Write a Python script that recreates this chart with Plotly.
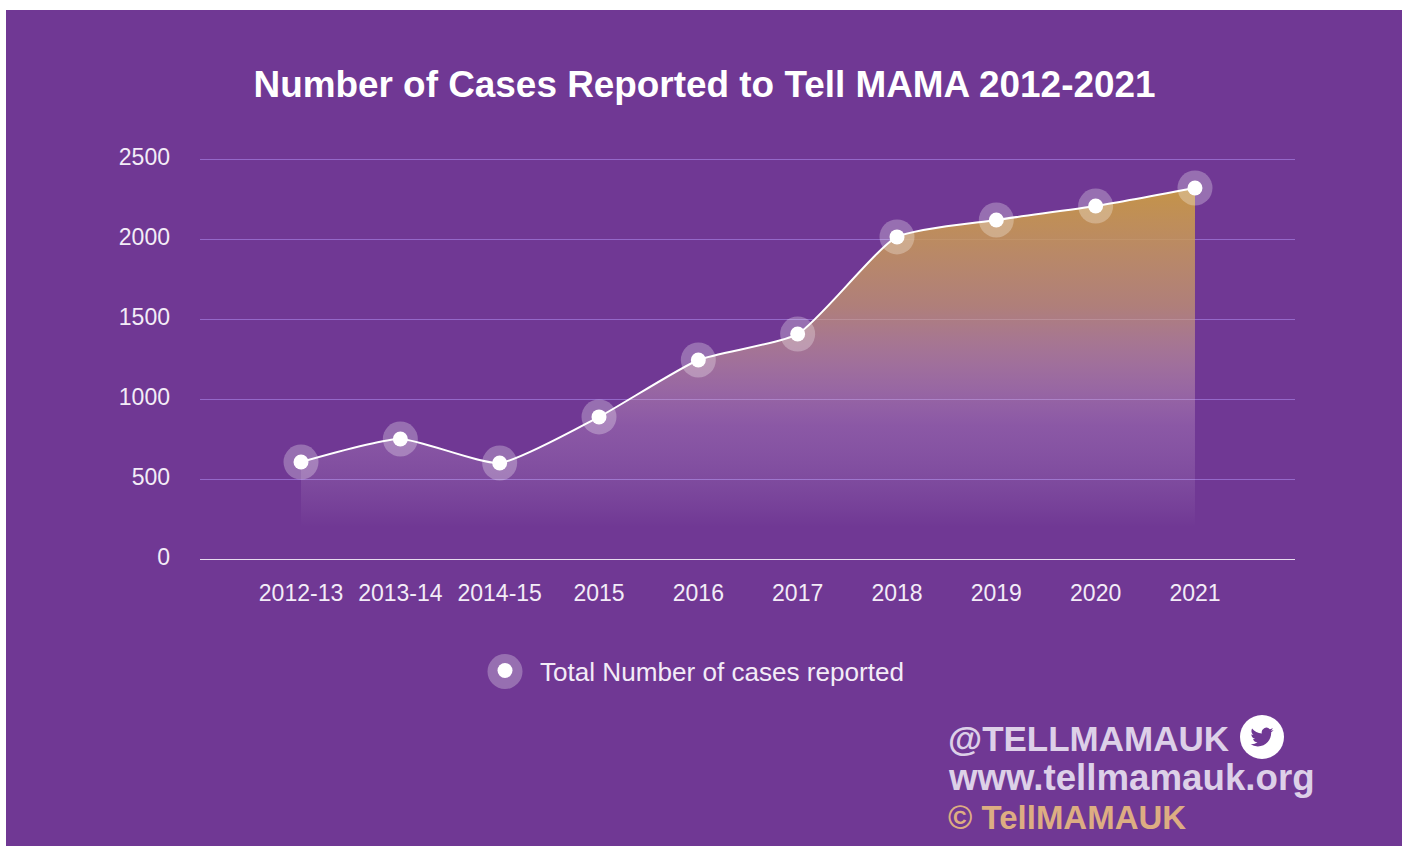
import base64
import plotly.graph_objects as go

categories = ["2012-13", "2013-14", "2014-15", "2015", "2016", "2017", "2018", "2019", "2020", "2021"]
cases = [606, 750, 600, 888, 1244, 1406, 2013, 2119, 2206, 2319]
series_name = "Total Number of cases reported"
title_text = "Number of Cases Reported to Tell MAMA 2012-2021"
y_ticks = [0, 500, 1000, 1500, 2000, 2500]

W, H = 1402, 846
L, R, T, B = 200, 107, 157, 285
PW, PH = W - L - R, H - T - B
PURPLE = "#703894"
FONT = "Liberation Sans"
GRID = "#9468C8"

def px(x):
    return (x - L) / PW

def py(y):
    return (H - B - y) / PH

bird = ("M23.953 4.57a10 10 0 01-2.825.775 4.958 4.958 0 002.163-2.723c-.951.555-2.005.959-3.127 1.184"
        "a4.92 4.92 0 00-8.384 4.482C7.69 8.095 4.067 6.13 1.64 3.162a4.822 4.822 0 00-.666 2.475"
        "c0 1.71.87 3.213 2.188 4.096a4.904 4.904 0 01-2.228-.616v.06a4.923 4.923 0 003.946 4.827"
        " 4.996 4.996 0 01-2.212.085 4.936 4.936 0 004.604 3.417 9.867 9.867 0 01-6.102 2.105"
        "c-.39 0-.779-.023-1.17-.067a13.995 13.995 0 007.557 2.209c9.053 0 13.998-7.496 13.998-13.985"
        " 0-.21 0-.42-.015-.63A9.935 9.935 0 0024 4.59z")
svg = (f'<svg xmlns="http://www.w3.org/2000/svg" width="44" height="44" viewBox="0 0 44 44">'
       f'<circle cx="22" cy="22" r="22" fill="white"/>'
       f'<g transform="translate(10.5,10.5) scale(0.96)"><path d="{bird}" fill="{PURPLE}"/></g></svg>')
svg_uri = "data:image/svg+xml;base64," + base64.b64encode(svg.encode()).decode()

fig = go.Figure()
fig.add_trace(go.Scatter(
    x=categories, y=cases, mode="none", fill="tozeroy", showlegend=False, hoverinfo="skip",
    line=dict(shape="spline", smoothing=0.55),
    fillgradient=dict(type="vertical", start=200, stop=2319, colorscale=[
        [0.0, "rgba(255,255,255,0)"],
        [0.30, "rgba(225,190,220,0.24)"],
        [0.65, "rgba(205,160,110,0.68)"],
        [1.0, "rgba(199,150,70,0.97)"],
    ]),
))
fig.add_trace(go.Scatter(
    x=categories, y=cases, mode="markers", showlegend=False, hoverinfo="skip",
    marker=dict(size=35, color="rgba(255,255,255,0.28)", line=dict(width=0)),
))
fig.add_trace(go.Scatter(
    x=categories, y=cases, mode="lines", showlegend=False, hoverinfo="skip",
    line=dict(color="white", width=2, shape="spline", smoothing=0.55),
))
fig.add_trace(go.Scatter(
    x=categories, y=cases, mode="markers", name=series_name,
    marker=dict(size=15, color="white", line=dict(width=0)),
))

def note(text, x, y, size, color):
    return dict(text=text, xref="paper", yref="paper", x=px(x), y=py(y), xanchor="left", yanchor="middle",
                showarrow=False, font=dict(family=FONT, size=size, color=color), borderpad=0)

fig.update_layout(
    width=W, height=H, margin=dict(l=L, r=R, t=T, b=B, autoexpand=False),
    paper_bgcolor="white", plot_bgcolor="rgba(0,0,0,0)",
    font=dict(family=FONT, size=23, color="#F3ECF7"),
    title=dict(text=f"<b>{title_text}</b>", x=704.5 / W, xanchor="center", y=1 - 84 / H, yanchor="middle",
               font=dict(family=FONT, size=36.9, color="white")),
    xaxis=dict(type="category", categoryorder="array", categoryarray=categories, range=[-1.017, 10.007],
               showgrid=False, showline=False, zeroline=False, ticks="", ticklabelstandoff=16,
               tickfont=dict(family=FONT, size=23, color="#F3ECF7")),
    yaxis=dict(range=[-12.5, 2512.5], tickvals=y_ticks, showgrid=True, gridcolor=GRID, gridwidth=1,
               zeroline=True, zerolinecolor="#E6DCEE", zerolinewidth=1,
               showline=False, ticks="", ticklabelstandoff=29, ticklabelshift=-2,
               tickfont=dict(family=FONT, size=23, color="#F3ECF7")),
    legend=dict(orientation="h", x=px(470), y=py(647), xanchor="left", yanchor="top",
                bgcolor="rgba(0,0,0,0)", font=dict(family=FONT, size=26.1, color="#F3ECF7"),
                itemwidth=60, itemclick=False, itemdoubleclick=False),
    shapes=[
        dict(type="rect", xref="paper", yref="paper", x0=px(6), x1=px(1402), y0=py(10), y1=py(846),
             fillcolor=PURPLE, line=dict(width=0), layer="below"),
        dict(type="circle", xref="paper", yref="paper", x0=px(487.5), x1=px(522.5), y0=py(654), y1=py(689),
             fillcolor="rgba(255,255,255,0.28)", line=dict(width=0), layer="below"),
    ],
    annotations=[
        note("<b>@TELLMAMAUK</b>", 947, 738, 35, "#DDD0E8"),
        note("<b>www.tellmamauk.org</b>", 947, 777, 36.7, "#DDD0E8"),
        note("<b>© TellMAMAUK</b>", 947, 817, 33, "#DDAD82"),
    ],
    images=[dict(source=svg_uri, xref="paper", yref="paper", x=px(1240), y=py(715), sizex=44 / PW, sizey=44 / PH,
                 xanchor="left", yanchor="top", layer="above")],
)

fig.write_html("out.html", config=dict(displayModeBar=False),
               post_script="document.body.style.margin='0';document.body.style.overflow='hidden';")
